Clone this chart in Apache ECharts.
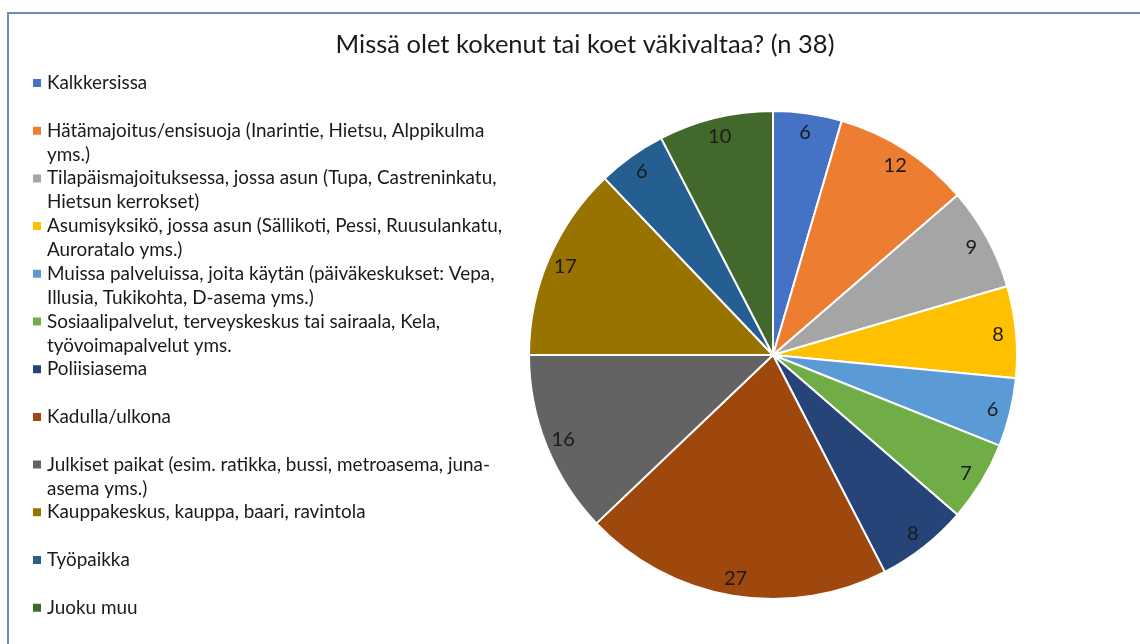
<!DOCTYPE html>
<html>
<head>
<meta charset="utf-8">
<script src="https://cdn.jsdelivr.net/npm/echarts@6/dist/echarts.min.js"></script>
<style>
  html, body { margin: 0; padding: 0; background: #fff; }
  #chart { width: 1140px; height: 644px; }
</style>
</head>
<body>
<div id="chart"></div>
<script>
// vastaukset (n 38), kpl per paikka
var categories = [
  'Kalkkersissa',
  'Hätämajoitus/ensisuoja (Inarintie, Hietsu, Alppikulma yms.)',
  'Tilapäismajoituksessa, jossa asun (Tupa, Castreninkatu, Hietsun kerrokset)',
  'Asumisyksikö, jossa asun (Sällikoti, Pessi, Ruusulankatu, Auroratalo yms.)',
  'Muissa palveluissa, joita käytän (päiväkeskukset: Vepa, Illusia, Tukikohta, D-asema yms.)',
  'Sosiaalipalvelut, terveyskeskus tai sairaala, Kela, työvoimapalvelut yms.',
  'Poliisiasema',
  'Kadulla/ulkona',
  'Julkiset paikat (esim. ratikka, bussi, metroasema, juna-asema yms.)',
  'Kauppakeskus, kauppa, baari, ravintola',
  'Työpaikka',
  'Juoku muu'
];
// legendin rivitys kuten alkuperäisessä
var legendLines = [
  ['Kalkkersissa'],
  ['Hätämajoitus/ensisuoja (Inarintie, Hietsu, Alppikulma', 'yms.)'],
  ['Tilapäismajoituksessa, jossa asun (Tupa, Castreninkatu,', 'Hietsun kerrokset)'],
  ['Asumisyksikö, jossa asun (Sällikoti, Pessi, Ruusulankatu,', 'Auroratalo yms.)'],
  ['Muissa palveluissa, joita käytän (päiväkeskukset: Vepa,', 'Illusia, Tukikohta, D-asema yms.)'],
  ['Sosiaalipalvelut, terveyskeskus tai sairaala, Kela,', 'työvoimapalvelut yms.'],
  ['Poliisiasema'],
  ['Kadulla/ulkona'],
  ['Julkiset paikat (esim. ratikka, bussi, metroasema, juna-', 'asema yms.)'],
  ['Kauppakeskus, kauppa, baari, ravintola'],
  ['Työpaikka'],
  ['Juoku muu']
];
var values = [6, 12, 9, 8, 6, 7, 8, 27, 16, 17, 6, 10];
var colors = ['#4472C4', '#ED7D31', '#A5A5A5', '#FFC000', '#5B9BD5', '#70AD47',
              '#264478', '#9E480E', '#636363', '#997300', '#255E91', '#43682B'];

var FONT = 'Lato, "Open Sans", sans-serif';

var pieData = categories.map(function (c, i) {
  return { name: c, value: values[i], itemStyle: { color: colors[i] } };
});
// näkymätön kopio, jolla arvot saadaan lähelle reunaa
var labelData = categories.map(function (c, i) {
  return { name: c, value: values[i] };
});

var chart = echarts.init(document.getElementById('chart'), null, { renderer: 'canvas' });

chart.setOption({
  backgroundColor: '#fff',
  animation: false,
  color: colors,
  title: {
    text: 'Missä olet kokenut tai koet väkivaltaa? (n 38)',
    left: 580,
    top: 27,
    textAlign: 'center',
    textStyle: { fontFamily: FONT, fontSize: 25.5, fontWeight: 'normal', color: '#1a1a1a' }
  },
  legend: {
    orient: 'vertical',
    left: 26,
    top: 42,
    height: 640,
    padding: 5,
    icon: 'rect',
    itemWidth: 10,
    itemHeight: 10,
    itemGap: -24.3,
    selectedMode: false,
    data: categories,
    formatter: function (name) {
      var l = legendLines[categories.indexOf(name)];
      return '\n' + l[0] + '\n' + (l[1] || '');
    },
    textStyle: { fontFamily: FONT, fontSize: 18.9, color: '#1a1a1a', lineHeight: 24 }
  },
  graphic: [{
    type: 'rect',
    shape: { x: 8, y: 13, width: 1200, height: 700 },
    style: { fill: 'none', stroke: '#6a8cc0', lineWidth: 2 },
    silent: true,
    z: -1
  }],
  series: [{
    type: 'pie',
    center: [773, 355],
    radius: [0, 244],
    startAngle: 90,
    clockwise: true,
    data: pieData,
    label: { show: false },
    labelLine: { show: false },
    itemStyle: { borderColor: '#fff', borderWidth: 2 },
    emphasis: { disabled: true }
  }, {
    type: 'pie',
    center: [773, 355],
    radius: [0, 446],
    startAngle: 90,
    clockwise: true,
    silent: true,
    legendHoverLink: false,
    data: labelData,
    itemStyle: { color: 'rgba(0,0,0,0)' },
    label: {
      show: true,
      position: 'inside',
      formatter: '{c}',
      fontFamily: FONT,
      fontSize: 20,
      color: '#1a1a1a',
      offset: [0, 1]
    },
    labelLine: { show: false },
    emphasis: { disabled: true }
  }]
});
</script>
</body>
</html>
